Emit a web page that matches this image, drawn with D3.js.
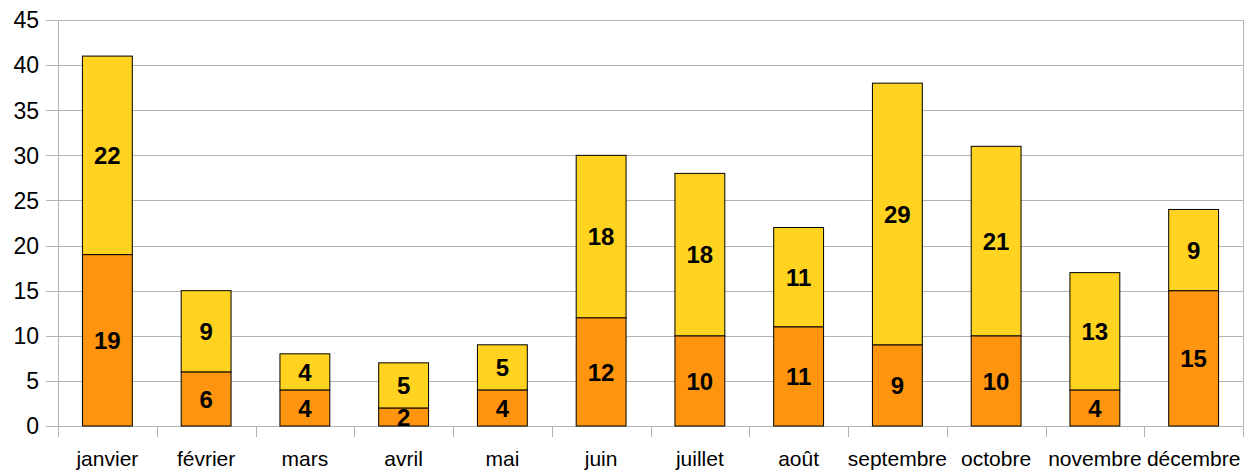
<!DOCTYPE html>
<html>
<head>
<meta charset="utf-8">
<script src="https://cdn.jsdelivr.net/npm/d3@7"></script>
<style>
  body { margin: 0; background: #fff; }
  text { font-family: "Liberation Sans", Arial, sans-serif; }
</style>
</head>
<body>
<script>
var months = ["janvier", "février", "mars", "avril", "mai", "juin", "juillet", "août", "septembre", "octobre", "novembre", "décembre"];
var bottomValues = [19, 6, 4, 2, 4, 12, 10, 11, 9, 10, 4, 15];
var topValues = [22, 9, 4, 5, 5, 18, 18, 11, 29, 21, 13, 9];
var yTicks = [0, 5, 10, 15, 20, 25, 30, 35, 40, 45];

var w = 1253, h = 472;
var margin = { top: 20, right: 10, bottom: 46, left: 58 };
var iw = w - margin.left - margin.right;
var ih = h - margin.top - margin.bottom;

var svg = d3.select("body").append("svg")
    .attr("width", w)
    .attr("height", h)
  .append("g")
    .attr("transform", "translate(" + margin.left + "," + margin.top + ")");

var x = d3.scaleBand().domain(months).range([0, iw]).paddingInner(0).paddingOuter(0);
var y = d3.scaleLinear().domain([0, 45]).range([ih, 0]);

// horizontal grid
svg.selectAll(".grid")
    .data(yTicks)
    .enter().append("line")
    .attr("x1", -12).attr("x2", iw)
    .attr("y1", function(d) { return Math.round(y(d)) + 0.5; })
    .attr("y2", function(d) { return Math.round(y(d)) + 0.5; })
    .attr("stroke", "#b3b3b3").attr("stroke-width", 1);

// vertical ticks / frame lines
var xEdges = d3.range(months.length + 1).map(function(i) { return i * x.bandwidth(); });
svg.selectAll(".xt")
    .data(xEdges)
    .enter().append("line")
    .attr("x1", function(d) { return Math.round(d) + 0.5; })
    .attr("x2", function(d) { return Math.round(d) + 0.5; })
    .attr("y1", function(d, i) { return (i === 0 || i === months.length) ? 0 : ih; })
    .attr("y2", ih + 11)
    .attr("stroke", "#b3b3b3").attr("stroke-width", 1);

// y labels
svg.selectAll(".yl")
    .data(yTicks)
    .enter().append("text")
    .attr("x", -19)
    .attr("y", function(d) { return y(d); })
    .attr("dy", "0.36em")
    .attr("text-anchor", "end")
    .attr("font-size", 23)
    .attr("fill", "#000")
    .text(function(d) { return d; });

// x labels
svg.selectAll(".xl")
    .data(months)
    .enter().append("text")
    .attr("x", function(d) { return x(d) + x.bandwidth() / 2; })
    .attr("y", ih + 40)
    .attr("text-anchor", "middle")
    .attr("font-size", 21)
    .attr("fill", "#000")
    .text(function(d) { return d; });

var barW = x.bandwidth() * 0.505;
function bx(d) { return x(d) + (x.bandwidth() - barW) / 2; }

// bottom series
svg.selectAll(".b1")
    .data(months)
    .enter().append("rect")
    .attr("x", bx)
    .attr("width", barW)
    .attr("y", function(d, i) { return y(bottomValues[i]); })
    .attr("height", function(d, i) { return y(0) - y(bottomValues[i]); })
    .attr("fill", "#ff950e").attr("stroke", "#000").attr("stroke-width", 1);

// top series
svg.selectAll(".b2")
    .data(months)
    .enter().append("rect")
    .attr("x", bx)
    .attr("width", barW)
    .attr("y", function(d, i) { return y(bottomValues[i] + topValues[i]); })
    .attr("height", function(d, i) { return y(bottomValues[i]) - y(bottomValues[i] + topValues[i]); })
    .attr("fill", "#ffd320").attr("stroke", "#000").attr("stroke-width", 1);

// value labels
svg.selectAll(".v1")
    .data(months)
    .enter().append("text")
    .attr("x", function(d) { return x(d) + x.bandwidth() / 2; })
    .attr("y", function(d, i) { return y(bottomValues[i] / 2); })
    .attr("dy", "0.36em")
    .attr("text-anchor", "middle")
    .attr("font-size", 24).attr("font-weight", "bold")
    .text(function(d, i) { return bottomValues[i]; });

svg.selectAll(".v2")
    .data(months)
    .enter().append("text")
    .attr("x", function(d) { return x(d) + x.bandwidth() / 2; })
    .attr("y", function(d, i) { return y(bottomValues[i] + topValues[i] / 2); })
    .attr("dy", "0.36em")
    .attr("text-anchor", "middle")
    .attr("font-size", 24).attr("font-weight", "bold")
    .text(function(d, i) { return topValues[i]; });
</script>
</body>
</html>
